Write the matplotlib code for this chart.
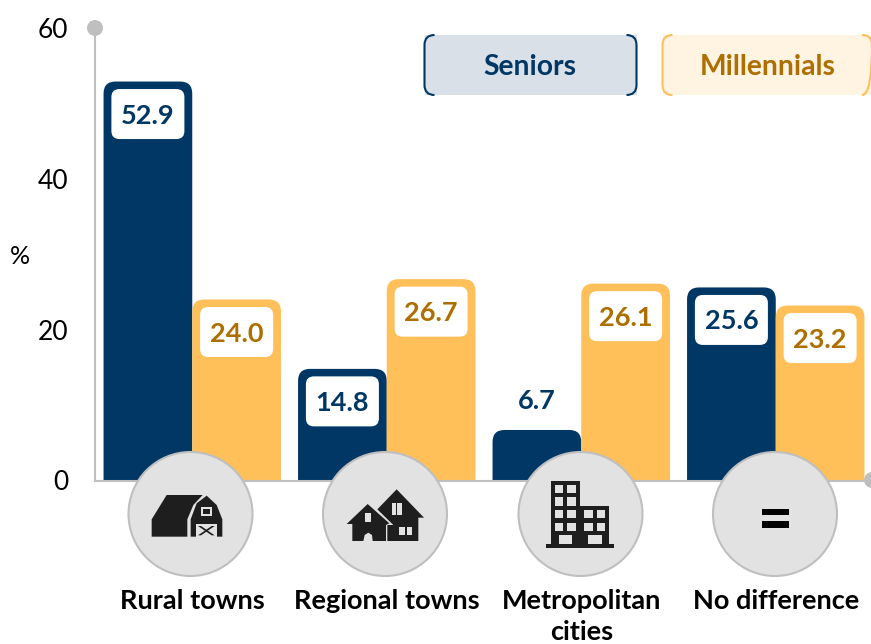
import matplotlib
matplotlib.use("Agg")
import matplotlib.pyplot as plt
from matplotlib.path import Path
from matplotlib.patches import PathPatch, FancyBboxPatch, Circle, Polygon, Rectangle

plt.rcParams['font.family'] = ['Lato', 'DejaVu Sans']

categories = ["Rural towns", "Regional towns", "Metropolitan\ncities", "No difference"]
seniors = [52.9, 14.8, 6.7, 25.6]
millennials = [24.0, 26.7, 26.1, 23.2]
y_ticks = [0, 20, 40, 60]

NAVY = "#003764"
ORANGE = "#FFBF59"
BROWN = "#AD6F00"
GREY = "#BFBFBF"
DARK = "#1E1E1E"
CIRCLE = "#E2E2E2"
BOLD_SIZE = 19.5

W, H = 871, 644
fig = plt.figure(figsize=(W / 100, H / 100), dpi=100)
ax = fig.add_axes([95 / W, 1 - 480.5 / H, 778 / W, 452.5 / H])
ax.set_xlim(-0.5, 3.5)
ax.set_ylim(0, 60)

# overlay in pixel coordinates for the decoration
deco = fig.add_axes([0, 0, 1, 1], zorder=5)
deco.set_xlim(0, W)
deco.set_ylim(H, 0)
deco.axis("off")


def to_px(x, y):
    px, py = ax.transData.transform((x, y))
    return px, H - py


def rounded_bar(x, width, value, color, r=12):
    # rounded top corners, radius given in pixels
    rx = r / 194.5
    ry = r / 7.54
    verts = [(x, 0), (x, value - ry), (x, value), (x + rx, value),
             (x + width - rx, value), (x + width, value), (x + width, value - ry),
             (x + width, 0), (x, 0)]
    codes = [Path.MOVETO, Path.LINETO, Path.CURVE3, Path.CURVE3,
             Path.LINETO, Path.CURVE3, Path.CURVE3, Path.LINETO, Path.CLOSEPOLY]
    ax.add_patch(PathPatch(Path(verts, codes), facecolor=color, edgecolor="none", zorder=2))


def value_label(x, value, color):
    px, py = to_px(x, value)
    if value < 10:
        deco.text(px, py - 29, f"{value:.1f}", ha="center", va="center", color=color,
                  fontsize=BOLD_SIZE, fontweight="bold", zorder=4)
        return
    deco.add_patch(FancyBboxPatch((px - 30, py + 14), 60, 37, boxstyle="round,pad=6.5,rounding_size=8",
                                  facecolor="white", edgecolor="none", zorder=3))
    deco.text(px, py + 34, f"{value:.1f}", ha="center", va="center", color=color,
              fontsize=BOLD_SIZE, fontweight="bold", zorder=4)


bar_w = 88.7 / 194.5
for i in range(len(categories)):
    rounded_bar(i - bar_w, bar_w, seniors[i], NAVY)
    rounded_bar(i, bar_w, millennials[i], ORANGE)
    value_label(i - bar_w / 2, seniors[i], NAVY)
    value_label(i + bar_w / 2, millennials[i], BROWN)

# axes
for s in ["top", "right"]:
    ax.spines[s].set_visible(False)
for s in ["left", "bottom"]:
    ax.spines[s].set_color(GREY)
    ax.spines[s].set_linewidth(1.5)
ax.set_yticks(y_ticks)
ax.set_yticklabels([str(t) for t in y_ticks], fontsize=19, color="black")
ax.tick_params(axis="y", length=0, pad=19)
ax.set_xticks(range(len(categories)))
ax.set_xticklabels(categories, fontsize=BOLD_SIZE, fontweight="bold", linespacing=1.36)
ax.tick_params(axis="x", length=0, pad=78)
deco.text(20, 256, "%", ha="center", va="center", fontsize=18)
deco.add_patch(Circle((95, 28), 8, facecolor=GREY, edgecolor="none", clip_on=False))
deco.add_patch(Circle((872, 480), 8, facecolor=GREY, edgecolor="none", clip_on=False))


# legend boxes with bracket corners
def legend_box(x0, x1, y0, y1, fill, edge, text, tx, tcolor):
    deco.add_patch(Rectangle((x0, y0), x1 - x0, y1 - y0, facecolor=fill, edgecolor="none"))
    r = 10
    left = [(x0 + r, y0), (x0, y0), (x0, y0 + r), (x0, y1 - r), (x0, y1), (x0 + r, y1)]
    right = [(x1 - r, y0), (x1, y0), (x1, y0 + r), (x1, y1 - r), (x1, y1), (x1 - r, y1)]
    codes = [Path.MOVETO, Path.CURVE3, Path.CURVE3, Path.LINETO, Path.CURVE3, Path.CURVE3]
    for pts in (left, right):
        deco.add_patch(PathPatch(Path(pts, codes), facecolor="none", edgecolor=edge, lw=1.5))
    deco.text(tx, 66.5, text, ha="center", va="center", color=tcolor, fontsize=20.3, fontweight="bold")


legend_box(424.5, 636.5, 35, 95, "#D9E0E8", NAVY, "Seniors", 530, NAVY)
legend_box(662.5, 872, 35, 95, "#FFF3E2", ORANGE, "Millennials", 768, BROWN)

# circles with icons
for cx in [190.5, 385, 580.5, 775]:
    deco.add_patch(Circle((cx, 514), 62, facecolor=CIRCLE, edgecolor=GREY, lw=1.5, zorder=6))


def shape(points, ox, color=DARK):
    pts = [(ox + a / 3, 440 + b / 3) for a, b in points]
    deco.add_patch(Polygon(pts, closed=True, facecolor=color, edgecolor="none", zorder=7))


def box(x0, y0, x1, y1, ox, color=CIRCLE):
    shape([(x0, y0), (x1, y0), (x1, y1), (x0, y1)], ox, color)


# barn
ox = 100
shape([(155, 290), (155, 238), (200, 165), (308, 165), (280, 195), (262, 238), (262, 290)], ox)
shape([(272, 290), (272, 238), (290, 190), (320, 167), (350, 195), (367, 238), (367, 290)], ox)
box(303, 202, 336, 229, ox)
box(309, 208, 330, 223, ox, DARK)
box(288, 252, 350, 290, ox)
shape([(294, 258), (303, 258), (344, 286), (335, 286)], ox, DARK)
shape([(335, 258), (344, 258), (303, 286), (294, 286)], ox, DARK)

# houses
shape([(890, 148), (972, 233), (955, 233), (955, 303), (862, 303), (862, 255), (880, 255), (832, 208)], ox)
shape([(803, 192), (868, 250), (858, 255), (858, 303), (818, 303), (816, 285), (805, 278), (794, 285),
       (790, 303), (757, 303), (757, 252), (740, 252)], ox)
box(875, 190, 888, 226, ox)
box(892, 190, 905, 226, ox)
box(897, 260, 916, 286, ox)
box(920, 260, 937, 286, ox)
box(794, 220, 814, 246, ox)

# building
ox = 500
box(152, 123, 240, 318, ox, DARK)
box(240, 198, 328, 318, ox, DARK)
box(138, 313, 342, 323, ox, DARK)
for y0 in [135, 172, 210, 248]:
    box(165, y0, 190, y0 + 25, ox)
    box(202, y0, 227, y0 + 25, ox)
for y0 in [210, 248]:
    box(253, y0, 278, y0 + 25, ox)
    box(290, y0, 315, y0 + 25, ox)
box(176, 286, 217, 313, ox)
box(264, 286, 305, 313, ox)

# equals sign
box(786, 207, 866, 226, ox, "black")
box(786, 244, 866, 263, ox, "black")

fig.savefig("out.png", dpi=100)
